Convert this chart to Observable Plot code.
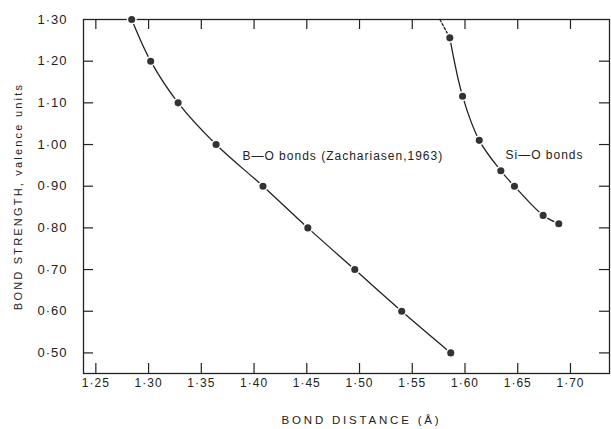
<!DOCTYPE html>
<html>
<head>
<meta charset="utf-8">
<script src="https://cdn.jsdelivr.net/npm/d3@7"></script>
<script src="https://cdn.jsdelivr.net/npm/@observablehq/plot@0.6"></script>
<style>
  html, body { margin: 0; padding: 0; background: #fff; }
  #chart svg { display: block; font-family: "Liberation Sans", Arial, sans-serif; }
  .spaced text { letter-spacing: 1px; }
  .wide text { letter-spacing: 2.2px; }
  .wider text { letter-spacing: 2.8px; }
</style>
</head>
<body>
<div id="chart"></div>
<script>
// B–O bonds (Zachariasen, 1963)
const boDistance = [1.284, 1.302, 1.328, 1.364, 1.4085, 1.451, 1.4955, 1.540, 1.5865];
const boStrength = [1.30, 1.20, 1.10, 1.00, 0.90, 0.80, 0.70, 0.60, 0.50];

// Si–O bonds
const siDistance = [1.5856, 1.5977, 1.6135, 1.634, 1.6469, 1.6741, 1.6889];
const siStrength = [1.256, 1.116, 1.010, 0.937, 0.900, 0.830, 0.810];

// dashed extrapolation of the Si–O curve above the first point
const siDashDistance = [1.5762, 1.5856];
const siDashStrength = [1.30, 1.256];

// tick values and labels
const xTicks = [1.25, 1.30, 1.35, 1.40, 1.45, 1.50, 1.55, 1.60, 1.65, 1.70];
const yTicks = [0.50, 0.60, 0.70, 0.80, 0.90, 1.00, 1.10, 1.20, 1.30];
const fmt = d => d.toFixed(2).replace(".", "·");

const annotations = [
  {x: 1.389, y: 0.9715, text: "B—O bonds (Zachariasen,1963)"},
  {x: 1.6384, y: 0.9756, text: "Si—O bonds"}
];

const bo = boDistance.map((d, i) => ({x: d, y: boStrength[i]}));
const si = siDistance.map((d, i) => ({x: d, y: siStrength[i]}));
const siDash = siDashDistance.map((d, i) => ({x: d, y: siDashStrength[i]}));

const W = 611, H = 429;
const mL = 83, mR = 2, mT = 19, mB = 56;
const frameW = W - mL - mR, frameH = H - mT - mB;
const ink = "#222";

const chart = Plot.plot({
  width: W,
  height: H,
  marginLeft: mL,
  marginRight: mR,
  marginTop: mT,
  marginBottom: mB,
  style: {fontSize: "12px", color: ink, background: "#fff"},
  x: {domain: [1.2383, 1.737]},
  y: {domain: [0.4506, 1.30]},
  marks: [
    Plot.frame({stroke: ink, strokeWidth: 1.3}),
    // inward ticks
    Plot.gridX(xTicks, {stroke: ink, strokeOpacity: 1, strokeWidth: 1.2, insetTop: frameH - 10}),
    Plot.gridX(xTicks, {stroke: ink, strokeOpacity: 1, strokeWidth: 1.2, insetBottom: frameH - 10}),
    Plot.gridY(yTicks.slice(0, -1), {stroke: ink, strokeOpacity: 1, strokeWidth: 1.2, insetRight: frameW - 10}),
    Plot.gridY(yTicks.slice(0, -1), {stroke: ink, strokeOpacity: 1, strokeWidth: 1.2, insetLeft: frameW - 10}),
    Plot.axisX(xTicks, {tickSize: 0, tickPadding: 5, tickFormat: fmt, label: null, fontSize: 12, fill: ink, className: "spaced"}),
    Plot.axisY(yTicks, {tickSize: 0, tickPadding: 16, tickFormat: fmt, label: null, fontSize: 13, fill: ink, className: "spaced"}),
    // curves
    Plot.line(bo, {x: "x", y: "y", curve: "catmull-rom", stroke: ink, strokeWidth: 1.3}),
    Plot.line(si, {x: "x", y: "y", curve: "catmull-rom", stroke: ink, strokeWidth: 1.3}),
    Plot.line(siDash, {x: "x", y: "y", stroke: ink, strokeWidth: 1.3, strokeDasharray: "2.5,2"}),
    Plot.dot(bo, {x: "x", y: "y", r: 4.3, fill: "#333", stroke: "#fff", strokeWidth: 1.5}),
    Plot.dot(si, {x: "x", y: "y", r: 4.3, fill: "#333", stroke: "#fff", strokeWidth: 1.5}),
    // labels
    Plot.text(annotations, {x: "x", y: "y", text: "text", textAnchor: "start", fontSize: 12, fill: ink, className: "spaced"}),
    Plot.text(["BOND DISTANCE (Å)"], {frameAnchor: "bottom", textAnchor: "middle", dx: 15, dy: 50, fontSize: 11.5, fill: ink, className: "wider"}),
    Plot.text(["BOND STRENGTH, valence units"], {frameAnchor: "left", textAnchor: "middle", dx: -65, rotate: -90, fontSize: 11, fill: ink, className: "wide"})
  ]
});
document.getElementById("chart").appendChild(chart);
</script>
</body>
</html>
